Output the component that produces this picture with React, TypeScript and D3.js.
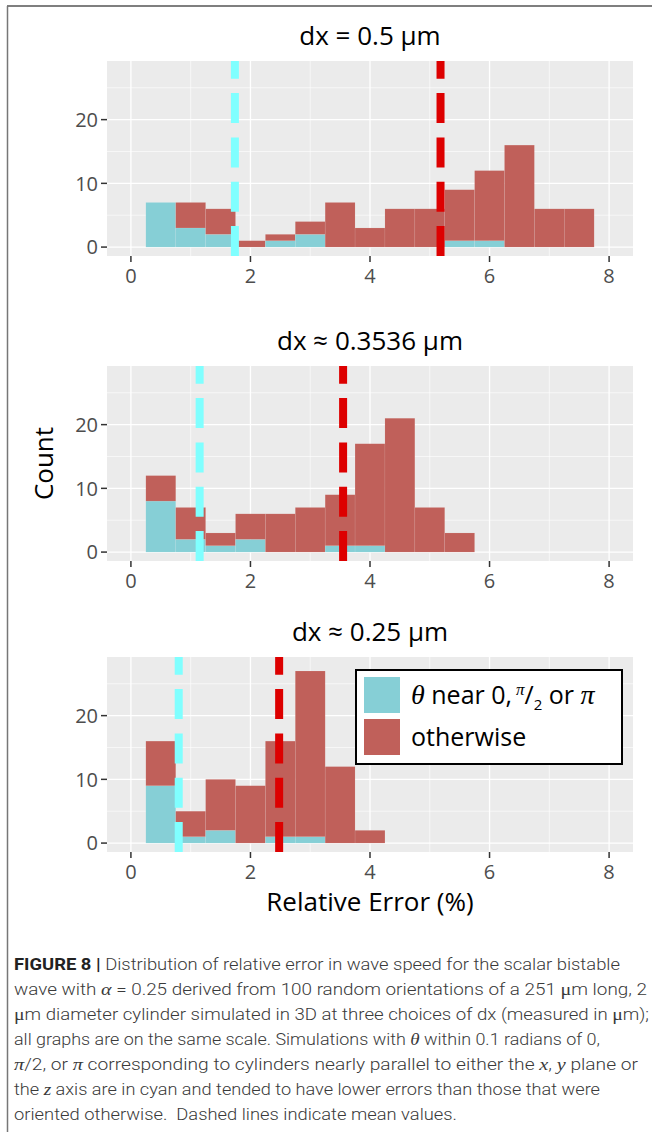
import React from "react";
import * as d3 from "d3";

// ---------- data ----------
const binStarts = [0.25, 0.75, 1.25, 1.75, 2.25, 2.75, 3.25, 3.75, 4.25, 4.75, 5.25, 5.75, 6.25, 6.75, 7.25];
const binWidth = 0.5;

const panelTitles = ["dx = 0.5 µm", "dx ≈ 0.3536 µm", "dx ≈ 0.25 µm"];

// total count per bin (stack height) and cyan (θ near 0, π/2 or π) count per bin
const totals05 = [7, 7, 6, 1, 2, 4, 7, 3, 6, 6, 9, 12, 16, 6, 6];
const cyan05 = [7, 3, 2, 0, 1, 2, 0, 0, 0, 0, 1, 1, 0, 0, 0];
const totals035 = [12, 7, 3, 6, 6, 7, 9, 17, 21, 7, 3];
const cyan035 = [8, 2, 1, 2, 0, 0, 1, 1, 0, 0, 0];
const totals025 = [16, 5, 10, 9, 16, 27, 12, 2];
const cyan025 = [9, 1, 2, 0, 1, 1, 0, 0];

const cyanMeans = [1.74, 1.15, 0.8];
const redMeans = [5.18, 3.55, 2.48];

const xTicks = [0, 2, 4, 6, 8];
const xMinor = [1, 3, 5, 7];
const yTicks = [0, 10, 20];
const yMinor = [5, 15, 25];

const legendLabels = ["θ near 0, π/2 or π", "otherwise"];

const captionLines = [
  "Distribution of relative error in wave speed for the scalar bistable",
  "wave with α = 0.25 derived from 100 random orientations of a 251 μm long, 2",
  "μm diameter cylinder simulated in 3D at three choices of dx (measured in μm);",
  "all graphs are on the same scale. Simulations with θ within 0.1 radians of 0,",
  "π/2, or π corresponding to cylinders nearly parallel to either the x, y plane or",
  "the z axis are in cyan and tended to have lower errors than those that were",
  "oriented otherwise.\u00A0 Dashed lines indicate mean values.",
];

// ---------- layout ----------
const W = 652;
const H = 1132;
const PLOT_L = 107;
const PLOT_R = 633;
const PANEL_TOPS = [61, 366, 657];
const PANEL_H = 195;

const CYAN_FILL = "#86CFD6";
const RED_FILL = "#C0605A";
const CYAN_LINE = "#80FFFF";
const RED_LINE = "#DD0000";
const BG = "#EBEBEB";
const FONT = "'Open Sans', 'Noto Sans', sans-serif";
const CAP_FONT = "Roboto, 'Liberation Sans', sans-serif";
const MATH_FONT = "'Liberation Serif', 'DejaVu Serif', serif";

const x = d3.scaleLinear().domain([-0.4, 8.4]).range([PLOT_L, PLOT_R]);

type PanelData = { totals: number[]; cyan: number[] };
const panels: PanelData[] = [
  { totals: totals05, cyan: cyan05 },
  { totals: totals035, cyan: cyan035 },
  { totals: totals025, cyan: cyan025 },
];

function Panel({ idx }: { idx: number }) {
  const top = PANEL_TOPS[idx];
  const bottom = top + PANEL_H;
  const y = d3.scaleLinear().domain([-1.4, 29.2]).range([bottom, top]);
  const { totals, cyan } = panels[idx];
  return (
    <g>
      <text x={(PLOT_L + PLOT_R) / 2} y={top - 16.5} textAnchor="middle" fontFamily={FONT} fontSize={26} fill="#000">
        {panelTitles[idx]}
      </text>
      <rect x={PLOT_L} y={top} width={PLOT_R - PLOT_L} height={PANEL_H} fill={BG} />
      {xMinor.map((t) => (
        <line key={"xm" + t} x1={x(t)} x2={x(t)} y1={top} y2={bottom} stroke="#fff" strokeWidth={0.6} />
      ))}
      {yMinor.map((t) => (
        <line key={"ym" + t} x1={PLOT_L} x2={PLOT_R} y1={y(t)} y2={y(t)} stroke="#fff" strokeWidth={0.6} />
      ))}
      {xTicks.map((t) => (
        <line key={"xM" + t} x1={x(t)} x2={x(t)} y1={top} y2={bottom} stroke="#fff" strokeWidth={1.3} />
      ))}
      {yTicks.map((t) => (
        <line key={"yM" + t} x1={PLOT_L} x2={PLOT_R} y1={y(t)} y2={y(t)} stroke="#fff" strokeWidth={1.3} />
      ))}
      {totals.map((tot, i) => {
        const x0 = x(binStarts[i]);
        const x1 = x(binStarts[i] + binWidth);
        const c = cyan[i];
        return (
          <g key={"b" + i}>
            {c > 0 && (
              <rect x={x0} y={y(c)} width={x1 - x0} height={y(0) - y(c)} fill={CYAN_FILL} stroke="rgba(255,255,255,0.12)" strokeWidth={0.6} />
            )}
            {tot > c && (
              <rect x={x0} y={y(tot)} width={x1 - x0} height={y(c) - y(tot)} fill={RED_FILL} stroke="rgba(255,255,255,0.12)" strokeWidth={0.6} />
            )}
          </g>
        );
      })}
      <line x1={x(cyanMeans[idx])} x2={x(cyanMeans[idx])} y1={bottom} y2={top} stroke={CYAN_LINE} strokeWidth={8} strokeDasharray="30 14.3" />
      <line x1={x(redMeans[idx])} x2={x(redMeans[idx])} y1={bottom} y2={top} stroke={RED_LINE} strokeWidth={8} strokeDasharray="30 14.3" />
      {yTicks.map((t) => (
        <g key={"yt" + t}>
          <line x1={PLOT_L - 6} x2={PLOT_L} y1={y(t)} y2={y(t)} stroke="#333" strokeWidth={1.5} />
          <text x={PLOT_L - 9} y={y(t)} dy="0.36em" textAnchor="end" fontFamily={FONT} fontSize={20} fill="#4D4D4D">
            {t}
          </text>
        </g>
      ))}
      {xTicks.map((t) => (
        <g key={"xt" + t}>
          <line x1={x(t)} x2={x(t)} y1={bottom} y2={bottom + 6} stroke="#333" strokeWidth={1.5} />
          <text x={x(t)} y={bottom + 27} textAnchor="middle" fontFamily={FONT} fontSize={20} fill="#4D4D4D">
            {t}
          </text>
        </g>
      ))}
    </g>
  );
}

function Legend() {
  const lx = 356, ly = 670, lw = 266, lh = 94;
  return (
    <g>
      <rect x={lx} y={ly} width={lw} height={lh} fill="#fff" stroke="#000" strokeWidth={2} />
      <rect x={364} y={677} width={36} height={36} fill={CYAN_FILL} />
      <rect x={364} y={719} width={36} height={36} fill={RED_FILL} />
      <text x={411} y={704} fontFamily={FONT} fontSize={25} fill="#000">
        <tspan fontFamily={MATH_FONT} fontStyle="italic" fontSize={28}>θ</tspan>
        <tspan> near 0,</tspan>
        <tspan dx={4} dy={-9} fontSize={17} fontFamily={MATH_FONT} fontStyle="italic">π</tspan>
        <tspan dy={9}>/</tspan>
        <tspan dy={6} fontSize={15}>2</tspan>
        <tspan dy={-6}> or </tspan>
        <tspan fontFamily={MATH_FONT} fontStyle="italic" fontSize={28}>π</tspan>
      </text>
      <text x={411} y={746} fontFamily={FONT} fontSize={25} fill="#000">
        {legendLabels[1]}
      </text>
    </g>
  );
}

// render a caption line, italicising math symbols
function renderCaptionText(s: string) {
  const parts: React.ReactNode[] = [];
  const re = /(α|θ|π|μ|\bx(?=, y)|(?<=x, )y\b|(?<=the )z(?= axis))/g;
  let last = 0;
  let m: RegExpExecArray | null;
  let k = 0;
  while ((m = re.exec(s))) {
    if (m.index > last) parts.push(<tspan key={k++}>{s.slice(last, m.index)}</tspan>);
    const ch = m[0];
    const italic = ch !== "μ";
    parts.push(
      <tspan key={k++} fontFamily={MATH_FONT} fontStyle={italic ? "italic" : "normal"} fontSize={17.5}>
        {ch}
      </tspan>
    );
    last = m.index + ch.length;
  }
  if (last < s.length) parts.push(<tspan key={k++}>{s.slice(last)}</tspan>);
  return parts;
}

const captionEnds = [620, 647, 649, 600, 638, 600, 457];

export default function App() {
  return (
    <svg width={W} height={H} style={{ position: "absolute", left: 0, top: 0, background: "#fff" }} xmlns="http://www.w3.org/2000/svg">
      <rect x={0} y={0} width={W} height={H} fill="#fff" />
      <line x1={7} x2={W} y1={6} y2={6} stroke="#555" strokeWidth={1.5} />
      <line x1={7.5} x2={7.5} y1={6} y2={H} stroke="#777" strokeWidth={1.5} />
      {[0, 1, 2].map((i) => (
        <Panel key={i} idx={i} />
      ))}
      <Legend />
      <text transform={`translate(53, ${PANEL_TOPS[1] + PANEL_H / 2}) rotate(-90)`} textAnchor="middle" fontFamily={FONT} fontSize={26} fill="#000">
        Count
      </text>
      <text x={(PLOT_L + PLOT_R) / 2} y={911} textAnchor="middle" fontFamily={FONT} fontSize={26} fill="#000">
        Relative Error (%)
      </text>
      {captionLines.map((line, i) => (
        <text
          key={"c" + i}
          x={14}
          y={970 + i * 25}
          fontFamily={CAP_FONT}
          fontSize={16.5}
          fontWeight={300}
          fill="#3A3A3A"
          textLength={captionEnds[i] - 14}
          lengthAdjust="spacingAndGlyphs"
        >
          {i === 0 && (
            <tspan fontWeight={700} fill="#222">
              FIGURE 8 |{" "}
            </tspan>
          )}
          {renderCaptionText(line)}
        </text>
      ))}
    </svg>
  );
}
